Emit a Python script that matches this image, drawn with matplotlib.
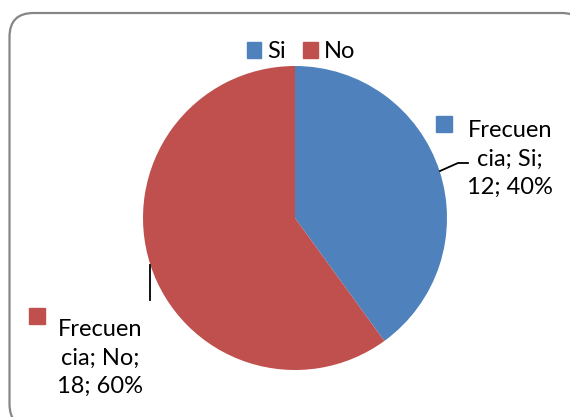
import matplotlib.pyplot as plt
from matplotlib.patches import FancyBboxPatch

# Data
categories = ['Si', 'No']
values = [12, 18]
percents = ['40%', '60%']
colors = ['#4F81BD', '#C0504D']

plt.rcParams['font.family'] = ['Lato', 'DejaVu Sans']

fig = plt.figure(figsize=(5.7, 4.17), dpi=100)
ax = fig.add_axes([0, 0, 1, 1])

# chart frame (runs past the right and bottom edges, as in the original)
frame = FancyBboxPatch((9.5, -11), 576, 415, boxstyle='round,pad=0,rounding_size=24',
                       facecolor='white', edgecolor='#868686', linewidth=1.6)
ax.add_patch(frame)

# pie
ax.pie(values, colors=colors, startangle=90, counterclock=False,
       center=(295, 199), radius=152, frame=True,
       wedgeprops=dict(edgecolor='none'))
ax.set_xlim(0, 570)
ax.set_ylim(0, 417)
ax.set_aspect('equal')
ax.axis('off')

fs = 17

# legend at top
ax.legend([plt.Rectangle((0, 0), 1, 1, color=c) for c in colors], categories,
          loc='center', bbox_to_anchor=(0.528, 0.876), ncol=2, frameon=False,
          fontsize=fs, handlelength=0.62, handleheight=0.62, handletextpad=0.25,
          columnspacing=0.75, borderpad=0, borderaxespad=0)

# data labels
label_pos = [(510, 258), (100, 59)]
key_pos = [(444, 293), (37, 101)]
for cat, val, pct, col, (tx, ty), (kx, ky) in zip(categories, values, percents, colors,
                                                   label_pos, key_pos):
    txt = 'Frecuen\ncia; %s;\n%d; %s' % (cat, val, pct)
    ax.text(tx, ty, txt, ha='center', va='center', multialignment='center',
            fontsize=fs, linespacing=1.45)
    ax.plot([kx], [ky], marker='s', markersize=11, color=col, linestyle='none')

# leader lines
ax.plot([440, 458, 468], [246, 254, 254], color='black', linewidth=1.3)
ax.plot([150, 150], [117, 152], color='black', linewidth=1.3)

fig.savefig('out.png', dpi=100)
